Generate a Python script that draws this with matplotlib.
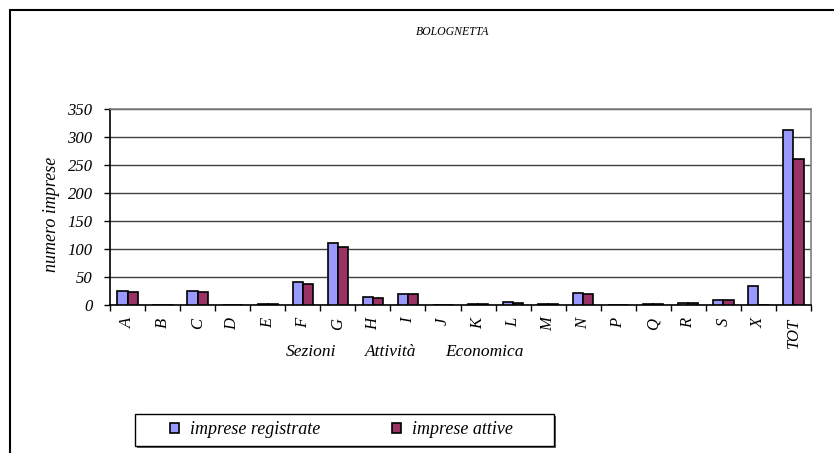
import numpy as np
import matplotlib.pyplot as plt
from matplotlib.patches import Rectangle

plt.rcParams['font.family'] = ['Liberation Serif', 'DejaVu Serif']
plt.rcParams['font.style'] = 'italic'

sezioni = ['A', 'B', 'C', 'D', 'E', 'F', 'G', 'H', 'I', 'J',
           'K', 'L', 'M', 'N', 'P', 'Q', 'R', 'S', 'X', 'TOT']
registrate = [25, 0, 25, 0, 2, 41, 110, 14, 20, 0,
              1, 5, 2, 21, 0, 1, 3, 9, 34, 312]
attive = [24, 0, 23, 0, 1, 37, 103, 12, 20, 0,
          1, 4, 2, 20, 0, 1, 3, 9, 0, 261]

W, H = 834, 453
fig = plt.figure(figsize=(W / 100, H / 100), dpi=100)

def fx(px):
    return px / W

def fy(py):
    return 1 - py / H

# plot area in pixel terms
x0, x1, ytop, ybot = 110, 811, 109, 305
ax = fig.add_axes([fx(x0), fy(ybot), (x1 - x0) / W, (ybot - ytop) / H])

x = np.arange(len(sezioni))
bw = 0.29
b1 = ax.bar(x - bw / 2, registrate, bw, color='#9999ff', edgecolor='black', linewidth=1.2,
            label='imprese registrate', zorder=3)
b2 = ax.bar(x + bw / 2, attive, bw, color='#993366', edgecolor='black', linewidth=1.2,
            label='imprese attive', zorder=3)

ax.set_xlim(-0.5, len(sezioni) - 0.5)
ax.set_ylim(0, 350)
ax.set_yticks(np.arange(0, 351, 50))
ax.yaxis.grid(True, color='#404040', linewidth=1.0, zorder=0)
ax.tick_params(axis='y', labelsize=12, length=4.5, width=1, direction='out', pad=8)

# categories centred, ticks at boundaries
ax.set_xticks(x)
ax.set_xticklabels(sezioni, rotation=90, fontsize=12)
ax.tick_params(axis='x', length=0, pad=9)
ax.set_xticks(np.arange(len(sezioni) + 1) - 0.5, minor=True)
ax.tick_params(axis='x', which='minor', length=4.5, width=1, direction='out')
for t in ax.get_xticklabels() + ax.get_yticklabels():
    t.set_fontstyle('italic')

for s in ['left', 'bottom']:
    ax.spines[s].set_color('black')
    ax.spines[s].set_linewidth(1.2)
for s in ['top', 'right']:
    ax.spines[s].set_color('#808080')
    ax.spines[s].set_linewidth(1.2)

fig.text(fx(52), fy(214), 'numero imprese', fontsize=13, rotation=90, ha='center', va='center')

# axis title, three words spread as in the original
for word, cx in [('Sezioni', 311), ('Attività', 390.5), ('Economica', 484)]:
    fig.text(fx(cx), fy(352), word, fontsize=12.5, ha='center', va='center')
fig.text(fx(453), fy(32), 'BOLOGNETTA', fontsize=8.5, ha='center', va='center')

# outer frame
fig.patches.append(Rectangle((fx(10), -0.1), 1.2, fy(10) + 0.1, transform=fig.transFigure,
                             fill=False, edgecolor='black', linewidth=1.5))

# legend box with a small shadow
fig.patches.append(Rectangle((fx(137), fy(448)), (554 - 135) / W, 32 / H, transform=fig.transFigure,
                             facecolor='#606060', edgecolor='none'))
fig.patches.append(Rectangle((fx(135), fy(446)), (554 - 135) / W, 32 / H, transform=fig.transFigure,
                             facecolor='white', edgecolor='black', linewidth=1.0))
leg = fig.legend(handles=[b1, b2], loc='center left', ncol=2,
                 bbox_to_anchor=(fx(170), fy(430)),
                 fontsize=13, frameon=False,
                 handlelength=0.5, handleheight=0.5, handletextpad=0.6,
                 columnspacing=4.0, borderaxespad=0, borderpad=0)

fig.savefig('out.png', dpi=100)
